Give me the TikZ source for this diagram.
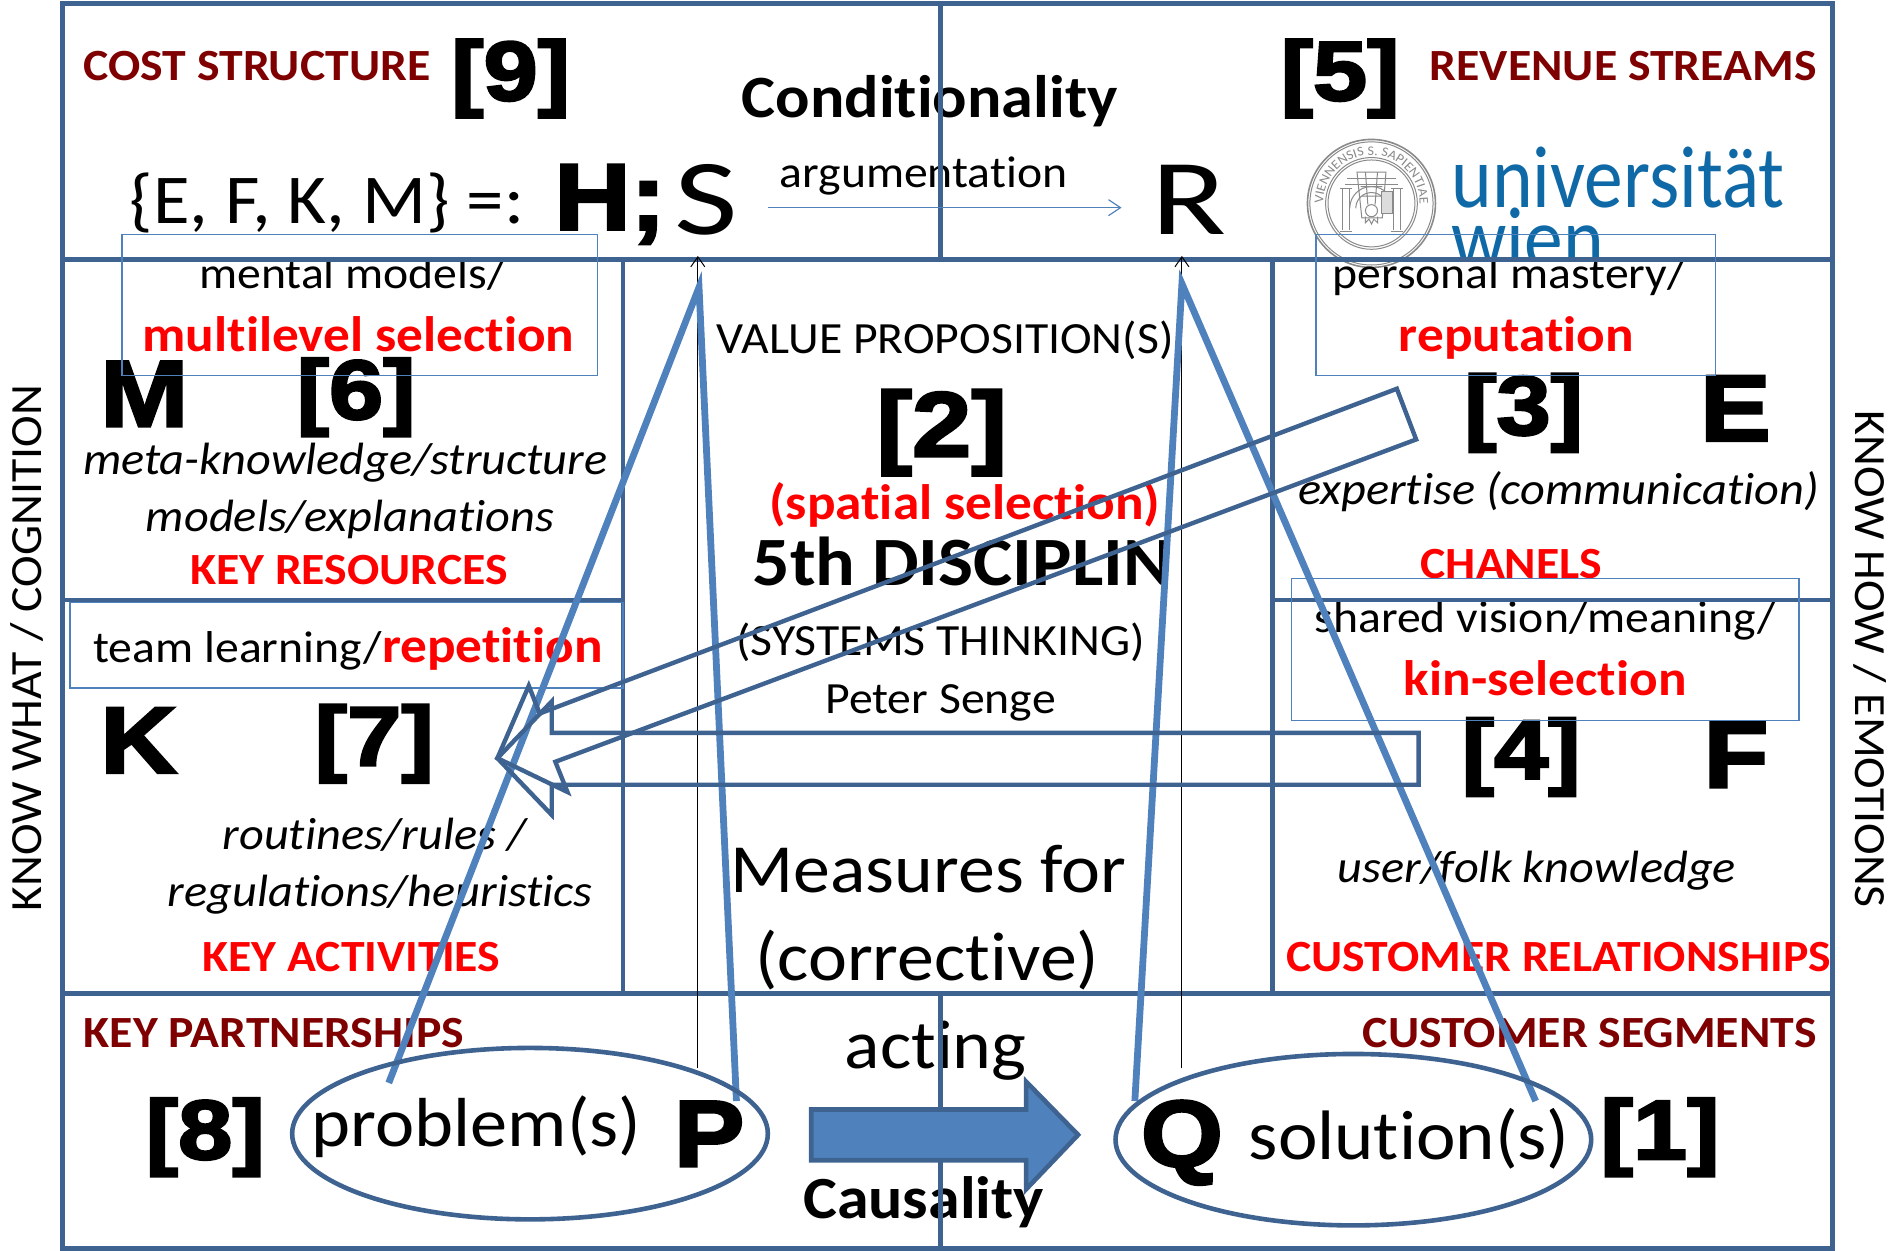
\documentclass[tikz,border=0pt]{standalone}
\usepackage{fontspec}
\usetikzlibrary{arrows.meta,decorations.text}
\setmainfont{Carlito}[FakeStretch=1.07,Ligatures=NoCommon]
\newfontfamily\widef{Carlito}[FakeStretch=1.28]
\newfontfamily\unif{Carlito}[FakeStretch=0.88,Ligatures=NoCommon]
\newfontfamily\blackf{Liberation Sans}[BoldFeatures={FakeBold=3,FakeStretch=1.12}]
\newfontfamily\brackf{Liberation Sans}[BoldFeatures={FakeBold=3,FakeStretch=1.16}]
\newcommand{\fsz}[1]{\fontsize{#1}{#1}\selectfont}
\definecolor{gridc}{HTML}{3F6391}
\definecolor{thinb}{HTML}{4F81BD}
\definecolor{dred}{HTML}{7F0000}
\definecolor{unib}{HTML}{0F69A6}
\definecolor{sealg}{HTML}{8A8A8A}
\tikzset{
  t/.style={inner sep=0pt,anchor=base,text=black},
  tl/.style={t,anchor=base west},
  tr/.style={t,anchor=base east},
  norm/.style={font=\fsz{22.3}},
  ital/.style={font=\fsz{22.6}\itshape},
  redb/.style={font=\fsz{24.9}\bfseries,text=red},
  redc/.style={font=\fsz{22.3}\bfseries,text=red},
  darkc/.style={font=\fsz{22.3}\bfseries,text=dred},
  big/.style={font=\fsz{34.5}},
  blk/.style={font=\fsz{47}\blackf\bfseries},
  brk/.style={font=\fsz{42}\brackf\bfseries},
  grid/.style={draw=gridc,line width=2.3pt},
  thinbox/.style={draw=thinb,line width=0.7pt},
  tri/.style={draw=thinb,line width=3.4pt,line join=miter},
  hollow/.style={draw=gridc,line width=2.2pt,line join=miter},
  thinarr/.style={draw=black,line width=0.55pt,-{Straight Barb[length=5pt,width=7pt,line width=0.5pt]}},
  blobe/.style={draw=gridc,line width=2.3pt},
}
\begin{document}
\begin{tikzpicture}[x=0.60365pt,y=-0.60365pt]
\useasboundingbox (0,0) rectangle (1568,1035.4);
\fill[white] (0,0) rectangle (1568,1035.4);
% ---------- logo
\begin{scope}
\clip (1190,100) rectangle (1500,214);
\node[tl,font=\fsz{44}\unif,text=unib] (uni) at (1202,172) {universität};
\node[tl,font=\fsz{44}\unif,text=unib] (wien) at (1202,222) {wien};
\end{scope}
\begin{scope}[shift={(1136,168.5)},x=0.60365pt,y=0.60365pt,draw=sealg,line width=0.5pt]
\draw[line width=0.8pt] (0,0) circle (53);
\draw (0,0) circle (51);
\draw (0,0) circle (38);
\draw (0,0) circle (36);
\path[decorate,decoration={text along path,text align=center,
  text={|\fsz{6.6}\color{sealg}|VIENNENSIS  S. SAPIENTIAE}}]
  (210:40) arc[start angle=210,end angle=-30,radius=40];
\draw (-24,-22) -- (-24,12) (-18,-22) -- (-18,12) (18,-22) -- (18,12) (24,-22) -- (24,12);
\draw (-26,-23) -- (-16,-23) (16,-23) -- (26,-23) (-26,12) -- (-16,12) (16,12) -- (26,12);
\draw (-18,-4) arc[start angle=180,end angle=0,radius=18];
\draw (-13,-4) arc[start angle=180,end angle=0,radius=13];
\draw (-8,-12) -- (-12,26) -- (12,26) -- (9,-12) -- cycle;
\draw (0,-6) circle (5);
\draw (-5,-11) -- (-5,-16) -- (-2,-13) -- (0,-17) -- (2,-13) -- (5,-16) -- (5,-11);
\draw (-22,16) -- (22,16) (-20,21) -- (20,21);
\draw (-8,6) -- (8,6) (-9,14) -- (9,14) (-3,-1) -- (-5,26) (3,-1) -- (5,26);
\draw[fill=sealg!30] (8,-8) rectangle (17,10);
\end{scope}
% ---------- texts
\node[tl,darkc] (cost) at (69,67) {COST STRUCTURE};
\node[t,brk] (n9) at (423,83) {[9]};
\node[t,font=\fsz{30}\bfseries] (cond) at (770,97) {Conditionality};
\node[t,brk] (n5) at (1110,83) {[5]};
\node[tr,darkc] (rev) at (1505,67) {REVENUE STREAMS};
\node[tl,font=\fsz{35}] (efkm) at (107,185) {\{E, F, K, M\} =:};
\node[tl,blk] (hh) at (459,190) {H;};
\node[t,font=\fsz{54}\widef] (ss) at (585,194) {S};
\node[t,norm] (argu) at (765,155) {argumentation};
\node[t,font=\fsz{54}\widef] (rr) at (985,194) {R};
\node[t,norm] (mm) at (292,239) {mental models/};
\node[t,redb] (ms) at (297,291) {multilevel selection};
\node[t,norm] (vp) at (783,293) {VALUE PROPOSITION(S)};
\node[tl,blk] (mm2) at (83,353) {M};
\node[t,brk] (n6) at (295,347) {[6]};
\node[t,font=\fsz{46}\brackf\bfseries] (n2) at (780,378) {[2]};
\node[t,redb] (sps) at (799,430) {(spatial selection)};
\node[tl,font=\fsz{34.6}\bfseries] (fifth) at (623,485) {5th DISCIPLIN};
\node[t,norm] (syst) at (779,543) {(SYSTEMS THINKING)};
\node[t,norm] (senge) at (779,591) {Peter Senge};
\node[t,ital] (meta) at (286,393) {meta-knowledge/structure};
\node[t,ital] (modl) at (290,440) {models/explanations};
\node[t,redc] (kres) at (289,484) {KEY RESOURCES};
\node[tl,norm] (team) at (77,549) {team learning/\textcolor{red}{\fsz{24.9}\bfseries repetition}};
\node[tl,blk] (kk) at (83,640) {K};
\node[t,brk] (n7) at (310,634) {[7]};
\node[t,ital] (rout) at (310,704) {routines/rules /};
\node[t,ital] (regu) at (315,751) {regulations/heuristics};
\node[t,redc] (kact) at (291,805) {KEY ACTIVITIES};
\node[t,big] (meas) at (769,739) {Measures for};
\node[t,big] (corr) at (768,812) {(corrective)};
\node[tl,darkc] (kpar) at (69,868) {KEY PARTNERSHIPS};
\node[tr,darkc] (cseg) at (1505,868) {CUSTOMER SEGMENTS};
\node[t,font=\fsz{34.5}] (act) at (775,885) {acting};
\node[t,font=\fsz{29.9}\bfseries] (caus) at (765,1009) {Causality};
\node[t,brk] (n8) at (170,960) {[8]};
\node[tl,font=\fsz{34.7}] (prob) at (258,950) {problem(s)};
\node[tl,blk] (pp) at (558,966) {P};
\node[t,blk] (qq) at (979,966) {Q};
\node[tl,font=\fsz{35}] (solu) at (1034,960) {solution(s)};
\node[t,brk] (n1) at (1375,960) {[1]};
\node[t,norm] (pers) at (1250,239) {personal mastery/};
\node[t,redb] (repu) at (1256,291) {reputation};
\node[t,brk] (n3) at (1262,360) {[3]};
\node[tl,blk] (ee) at (1408,365) {E};
\node[t,ital] (expe) at (1291,418) {expertise (communication)};
\node[t,redc] (chan) at (1252,479) {CHANELS};
\node[t,norm] (shar) at (1280,524) {shared vision/meaning/};
\node[t,redb] (kin) at (1280,576) {kin-selection};
\node[t,brk] (n4) at (1260,645) {[4]};
\node[tl,blk] (ff) at (1411,652) {F};
\node[t,ital] (user) at (1273,731) {user/folk knowledge};
\node[t,redc] (crel) at (1291,805) {CUSTOMER RELATIONSHIPS};
\node[t,font=\fsz{22.3},rotate=90,anchor=center] (kwhat) at (22,537) {KNOW WHAT / COGNITION};
\node[t,font=\fsz{22.3},rotate=-90,anchor=center] (khow) at (1549,546) {KNOW HOW / EMOTIONS};
% ---------- grid
\draw[grid] (52,3) rectangle (1518,1034);
\draw[grid] (779,3) -- (779,215);
\draw[grid] (779,823) -- (779,1034);
\draw[grid] (52,215) -- (1518,215);
\draw[grid] (52,823) -- (1518,823);
\draw[grid] (516,215) -- (516,823);
\draw[grid] (1054,215) -- (1054,823);
\draw[grid] (52,497) -- (516,497);
\draw[grid] (1054,497) -- (1518,497);
% ---------- thin boxes
\draw[thinbox] (101,194) rectangle (495,311);
\draw[thinbox] (1090,194) rectangle (1421,311);
\draw[thinbox] (58,499) rectangle (516,570);
\draw[thinbox] (1070,479) rectangle (1490,597);
% ---------- named ends
\coordinate (argA) at (636,172);
\coordinate (argB) at (929,172);
\coordinate (pBase) at (578,885);
\coordinate (pTop) at (578,212);
\coordinate (qBase) at (979,885);
\coordinate (qTop) at (979,212);
\coordinate (pa) at (322,897);
\coordinate (pb) at (579,238);
\coordinate (pc) at (610,912);
\coordinate (qa) at (940,912);
\coordinate (qb) at (979,235);
\coordinate (qc) at (1272,912);
% ---------- connectors
\draw[draw=thinb,line width=0.7pt,-{Straight Barb[length=6pt,width=8pt,line width=0.6pt]}] (argA) -- (argB);
\draw[thinarr] (pBase) -- (pTop);
\draw[thinarr] (qBase) -- (qTop);
\draw[tri] (pa) -- (pb) -- (pc);
\draw[tri] (qa) -- (qb) -- (qc);
% ---------- ellipses
\draw[blobe] (439,939) ellipse[x radius=197,y radius=71];
\draw[blobe] (1121,944) ellipse[x radius=197,y radius=71];
% ---------- hollow arrows
\draw[hollow] (1175,607) -- (457,607) -- (457,581) -- (412,628) -- (457,675) -- (457,650) -- (1175,650) -- cycle;
\draw[hollow] (1157,322) -- (447,591) -- (438,568) -- (412,628) -- (470,656) -- (460,631) -- (1173,364) -- cycle;
% ---------- block arrow
\draw[fill=thinb,draw=gridc,line width=2.3pt,line join=miter] (672,919) -- (850,919) -- (850,896) -- (893,940) -- (850,985) -- (850,961) -- (672,961) -- cycle;
\end{tikzpicture}
\end{document}
